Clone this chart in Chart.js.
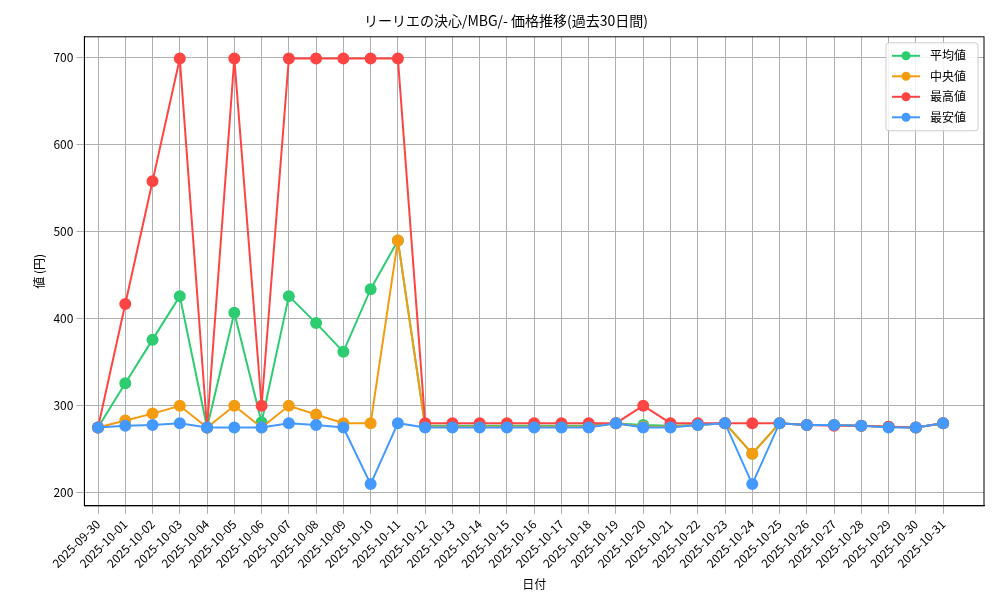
<!DOCTYPE html>
<html><head><meta charset="utf-8">
<script src="https://cdn.jsdelivr.net/npm/chart.js@4/dist/chart.umd.min.js"></script>
<style>html,body{margin:0;background:#fff}#w{width:1000px;height:600px}</style>
</head><body><div id="w"><canvas id="c"></canvas></div>
<script>
const labels=["2025-09-30","2025-10-01","2025-10-02","2025-10-03","2025-10-04","2025-10-05","2025-10-06","2025-10-07","2025-10-08","2025-10-09","2025-10-10","2025-10-11","2025-10-12","2025-10-13","2025-10-14","2025-10-15","2025-10-16","2025-10-17","2025-10-18","2025-10-19","2025-10-20","2025-10-21","2025-10-22","2025-10-23","2025-10-24","2025-10-25","2025-10-26","2025-10-27","2025-10-28","2025-10-29","2025-10-30","2025-10-31"];
const avgVals=[275,326,376,426,275,407,281,426,395,362,434,490,277,277,277,277,277,277,277,280,278,277,278,280,245,280,278,278,277,276,275,280];
const medVals=[275,283,291,300,275,300,275,300,290,280,280,490,276,276,276,276,276,276,276,280,276,276,278,280,245,280,278,278,277,276,275,280];
const maxVals=[275,417,558,699,275,699,300,699,699,699,699,699,280,280,280,280,280,280,280,280,300,280,280,280,280,280,278,277,277,276,275,280];
const minVals=[275,277,278,280,275,275,275,280,278,275,210,280,275,275,275,275,275,275,275,280,275,275,278,280,210,280,278,278,277,275,275,280];
const F="'Noto Sans CJK JP', 'DejaVu Sans', sans-serif";
Chart.defaults.font.family=F;Chart.defaults.color='#000';
function ds(l,d,c,o){return{label:l,data:d.map((v,i)=>({x:i,y:v})),borderColor:c,backgroundColor:c,pointRadius:5,pointHoverRadius:5,borderWidth:2,tension:0,order:o};}
const legendBox={id:'legendBox',afterDatasetsDraw(ch){
 const {ctx,chartArea:a}=ch;const items=ch.data.datasets;
 const w=92,h=88,x=a.right-w-6,y=a.top+6;
 ctx.save();ctx.fillStyle='rgba(255,255,255,0.85)';ctx.strokeStyle='#ccc';ctx.lineWidth=1;
 ctx.beginPath();ctx.roundRect(x,y,w,h,3);ctx.fill();ctx.stroke();
 ctx.font="12px "+F;ctx.textBaseline='middle';
 items.forEach((d,i)=>{const yy=y+13+i*20.5;ctx.strokeStyle=d.borderColor;ctx.lineWidth=2;
  ctx.beginPath();ctx.moveTo(x+6,yy);ctx.lineTo(x+34,yy);ctx.stroke();
  ctx.fillStyle=d.borderColor;ctx.beginPath();ctx.arc(x+20,yy,4.5,0,7);ctx.fill();
  ctx.fillStyle='#000';ctx.fillText(d.label,x+44,yy);});
 ctx.strokeStyle='#000';ctx.lineWidth=1;ctx.strokeRect(a.left,a.top,a.right-a.left,a.bottom-a.top);
 ctx.restore();}};
new Chart(document.getElementById('c'),{type:'line',
data:{datasets:[ds('平均値',avgVals,'#2ecc71',4),ds('中央値',medVals,'#f39c12',3),ds('最高値',maxVals,'#ff4444',2),ds('最安値',minVals,'#4499ff',1)]},
plugins:[legendBox],
options:{responsive:true,maintainAspectRatio:false,animation:false,
layout:{padding:{left:28,right:16,top:6,bottom:4}},
plugins:{title:{display:true,text:'リーリエの決心/MBG/- 価格推移(過去30日間)',font:{size:14,weight:'normal'},padding:{top:6,bottom:8}},
legend:{display:false},tooltip:{enabled:false}},
scales:{x:{type:'linear',min:-0.5,max:32.5,title:{display:true,text:'日付',font:{size:12}},grid:{color:'#b0b0b0'},border:{color:'#000'},
 afterBuildTicks:a=>{a.ticks=labels.map((_,i)=>({value:i}));},
 ticks:{maxRotation:45,minRotation:45,autoSkip:false,font:{size:12},callback:v=>labels[v]}},
y:{min:185,max:724,title:{display:true,text:'値 (円)',font:{size:12}},grid:{color:'#b0b0b0'},border:{color:'#000'},ticks:{font:{size:12}},afterBuildTicks:a=>{a.ticks=[200,300,400,500,600,700].map(v=>({value:v}));}}}}
});
</script></body></html>
